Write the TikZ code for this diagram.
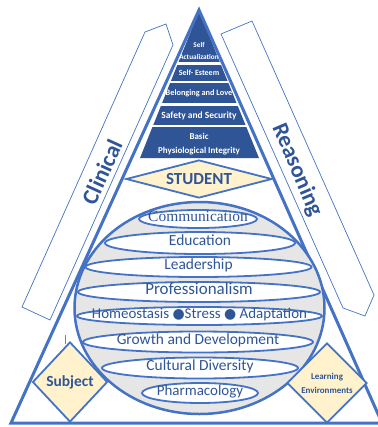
\documentclass[tikz,border=0pt]{standalone}
\usepackage{fontspec}
\setmainfont{Carlito}
\newfontfamily\commfont{Liberation Serif}
\newfontfamily\dotfont{DejaVu Sans}
\usetikzlibrary{shapes.geometric, positioning}
\definecolor{edge}{HTML}{4472C4}
\definecolor{navy}{HTML}{2F5597}
\definecolor{cream}{HTML}{FFF2CC}
\definecolor{globe}{HTML}{E7E6E6}
\newcommand{\blob}{{\dotfont\fontsize{14}{14}\selectfont ●}}
\newcommand{\fs}[1]{\fontsize{#1}{#1}\selectfont}
% keeps the text from widening its pill
\newcommand{\slim}[1]{\makebox[0pt]{#1}}

\begin{document}
\begin{tikzpicture}[x=1bp, y=-1bp,
    pill/.style={ellipse, draw=edge, line width=1.8bp, fill=white, inner sep=0pt,
                 text=navy, text height=1.4ex, text depth=0.2ex},
    kite/.style={diamond, draw=edge, line width=1.8bp, fill=cream, inner sep=0pt, text=navy},
    tier/.style={text=white, align=center, inner sep=0pt},
    band/.style={draw=edge, line width=0.7bp}]
  \useasboundingbox (0,0) rectangle (378,427);

  % Maslow tiers
  \fill[navy] (199,11) -- (259,158) -- (140,158) -- cycle;
  \foreach \y in {63.5, 82, 104.5, 126}
    \draw[white, line width=2.2bp] (130,\y) -- (270,\y);

  % outer pyramid
  \draw[edge, line width=3bp] (11,423) -- (199,10) -- (382,423) -- cycle;

  \node[tier, font=\bfseries\fontsize{7.3}{12}\selectfont] (selfact) at (199,51) {Self\\Actualization};
  \node[tier, font=\bfseries\fs{8}] (esteem) at (199,73) {Self- Esteem};
  \node[tier, font=\bfseries\fs{8.3}] (love) at (199,93.5) {Belonging and Love};
  \node[tier, font=\bfseries\fs{9.5}] (safety) at (199,116) {Safety and Security};
  \node[tier, font=\bfseries\fontsize{9}{14}\selectfont] (basic) at (199,144) {Basic\\Physiological Integrity};

  \node[kite, aspect=3.8, minimum width=146bp, minimum height=38bp,
        font=\bfseries\fs{17}] (student) at (199,179) {STUDENT};

  % the sphere of subjects
  \node[ellipse, draw=edge, fill=globe, line width=2.5bp, minimum width=250bp,
        minimum height=212bp] (sphere) at (199.5,308) {};

  \node[pill, minimum width=118bp, minimum height=18bp, font=\commfont\fs{15.5}] (comm) at (198,219) {\slim{Communication}};
  \node[pill, minimum width=190bp, minimum height=22bp, font=\fs{15.5}] (edu) at (200,243) {\slim{Education}};
  \node[pill, minimum width=226bp, minimum height=20bp, font=\fs{15.5}] (lead) at (198.5,267) {\slim{Leadership}};
  \node[pill, minimum width=242bp, minimum height=20bp, font=\fs{17}] (prof) at (199,292) {\slim{Professionalism}};
  \node[pill, minimum width=245bp, minimum height=18bp, font=\fs{15}] (homeo) at (199.5,316) {\slim{Homeostasis \blob Stress \blob\ Adaptation}};
  \node[pill, minimum width=230bp, minimum height=21bp, font=\fs{15.5}] (growth) at (198,342) {\slim{Growth and Development}};
  \node[pill, minimum width=196bp, minimum height=21bp, font=\fs{15.5}] (cult) at (200,368) {\slim{Cultural Diversity}};
  \node[pill, minimum width=116bp, minimum height=20bp, font=\fs{15}] (pharm) at (200,393) {\slim{Pharmacology}};

  % side bands
  \draw[band] (22,307) -- (145,32) -- (166,24) -- (173,45) -- (50,320) -- cycle;
  \draw[band] (221,34) -- (252,21) -- (374,295) -- (365,316) -- (343,308) -- cycle;

  \node[rotate=65.5, text=navy, font=\bfseries\fs{23}] (clinical) at (102,172) {Clinical};
  \node[rotate=-67, text=navy, font=\bfseries\fs{23}] (reasoning) at (297,170) {Reasoning};

  \node[kite, aspect=0.94, minimum width=75bp, minimum height=80bp,
        font=\bfseries\fs{15.5}] (subject) at (70,382) {Subject};
  \node[kite, aspect=1, minimum width=80bp, minimum height=80bp, align=center,
        font=\bfseries\fontsize{9}{14}\selectfont] (learning) at (327,383) {Learning\\Environments};

  \draw[gray, line width=0.5bp] (65,335) -- (65,344);
\end{tikzpicture}
\end{document}
